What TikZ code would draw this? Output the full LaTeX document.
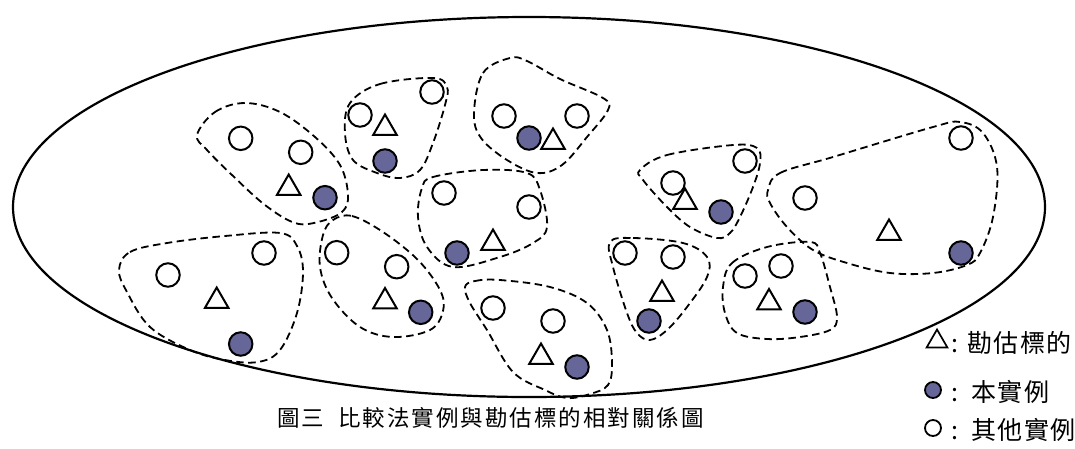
\documentclass[tikz,border=0pt]{standalone}
\usepackage{fontspec}
\newfontfamily\capfont[LetterSpace=9]{Noto Sans CJK TC}
\newfontfamily\legfont[LetterSpace=6]{Noto Sans CJK TC}
\usetikzlibrary{shapes.geometric}
\definecolor{slate}{RGB}{102,102,153}
\tikzset{
  other/.style={circle, draw, line width=2pt, minimum size=23.5pt, inner sep=0pt, fill=white},
  self/.style={other, fill=slate},
  target/.style={regular polygon, regular polygon sides=3, draw, line width=2pt, minimum size=27pt, inner sep=0pt, yshift=-3pt},
  grp/.style={draw, line width=1.8pt, dash pattern=on 7.5pt off 4.5pt},
  legother/.style={circle, draw, line width=1.8pt, minimum size=16pt, inner sep=0pt, fill=white},
  legself/.style={legother, fill=slate},
  legtarget/.style={regular polygon, regular polygon sides=3, draw, line width=1.7pt, minimum size=24pt, inner sep=0pt, yshift=-2.5pt},
  legtext/.style={anchor=west, inner sep=0pt, font=\legfont\fontsize{25pt}{28pt}\selectfont},
}
\begin{document}
\begin{tikzpicture}[x=1pt, y=-1pt]
\useasboundingbox (0,0) rectangle (1075,448);
% universe
\draw[line width=2.2pt] (529,207) ellipse [x radius=516pt, y radius=190pt];

% cluster boundaries
\draw[grp] plot[smooth cycle, tension=0.6] coordinates {(197,135) (215,112) (245,103) (280,112) (315,137) (340,165) (348,195) (342,212) (318,222) (295,223) (265,205) (232,175) (207,150)};
\draw[grp] plot[smooth cycle, tension=0.6] coordinates {(119,270) (130,252) (167,243) (225,236) (280,233) (297,246) (303,272) (297,313) (280,350) (258,362) (225,360) (190,350) (150,327) (127,292)};
\draw[grp] plot[smooth cycle, tension=0.6] coordinates {(333,220) (352,216) (383,232) (418,260) (440,290) (443,311) (430,330) (393,337) (360,327) (332,298) (320,267) (323,235)};
\draw[grp] plot[smooth cycle, tension=0.6] coordinates {(350,103) (380,84) (433,78) (447,87) (445,105) (433,143) (420,170) (400,178) (377,173) (353,160) (345,133)};
\draw[grp] plot[smooth cycle, tension=0.6] coordinates {(474,113) (483,73) (510,58) (527,61) (560,79) (603,98) (608,110) (587,137) (562,165) (537,173) (507,160) (481,138)};
\draw[grp] plot[smooth cycle, tension=0.6] coordinates {(422,188) (433,177) (483,170) (527,173) (540,190) (547,227) (533,243) (500,257) (453,267) (427,247) (418,217)};
\draw[grp] plot[smooth cycle, tension=0.6] coordinates {(465,287) (475,281) (500,280) (550,287) (587,303) (607,330) (612,363) (608,385) (590,394) (567,398) (545,390) (513,372) (487,330) (470,303)};
\draw[grp] plot[smooth cycle, tension=0.6] coordinates {(610,242) (633,238) (683,243) (707,257) (707,277) (687,307) (667,330) (650,340) (637,333) (627,313) (613,267)};
\draw[grp] plot[smooth cycle, tension=0.6] coordinates {(640,170) (667,155) (733,145) (757,148) (760,163) (753,187) (740,217) (730,233) (717,238) (690,227) (667,207) (643,180)};
\draw[grp] plot[smooth cycle, tension=0.6] coordinates {(723,287) (732,263) (767,247) (810,242) (820,253) (830,287) (837,317) (830,330) (800,337) (767,339) (737,333) (725,313)};
\draw[grp] plot[smooth cycle, tension=0.6] coordinates {(768,190) (780,173) (833,157) (933,127) (960,122) (983,133) (997,167) (993,217) (980,253) (967,265) (933,273) (890,273) (847,263) (813,250) (787,227) (770,203)};

% cluster A
\node[other] (a1) at (240.7,138.3) {};
\node[other] (a2) at (300.7,152.3) {};
\node[target] (at) at (288.7,185) {};
\node[self] (as) at (325,197.7) {};
% cluster B
\node[other] (b1) at (168,275) {};
\node[other] (b2) at (264,253) {};
\node[target] (bt) at (216.7,298) {};
\node[self] (bs) at (240.7,344) {};
% cluster C
\node[other] (c1) at (336.7,252.7) {};
\node[other] (c2) at (396.7,266.7) {};
\node[target] (ct) at (385,298.5) {};
\node[self] (cs) at (420.7,312.3) {};
% cluster D
\node[other] (d1) at (360,115) {};
\node[other] (d2) at (432,92) {};
\node[target] (dt) at (385,125) {};
\node[self] (ds) at (385,161) {};
% cluster E
\node[other] (e1) at (504,116) {};
\node[other] (e2) at (577,116) {};
\node[self] (es) at (529,138) {};
\node[target] (et) at (553,139) {};
% cluster F
\node[other] (f1) at (444,193) {};
\node[other] (f2) at (529,207) {};
\node[target] (ft) at (493,240) {};
\node[self] (fs) at (457,253) {};
% cluster G
\node[other] (g1) at (493,308) {};
\node[other] (g2) at (553,321) {};
\node[target] (gt) at (541,354) {};
\node[self] (gs) at (577,367) {};
% cluster H
\node[other] (h1) at (625,253) {};
\node[other] (h2) at (673,257) {};
\node[target] (ht) at (662,291) {};
\node[self] (hs) at (649,321) {};
% cluster I
\node[other] (i1) at (745,161) {};
\node[other] (i2) at (673,183) {};
\node[target] (it) at (685,199) {};
\node[self] (is) at (721,212) {};
% cluster J
\node[other] (j1) at (745,276) {};
\node[other] (j2) at (781,266) {};
\node[target] (jt) at (769,299.5) {};
\node[self] (js) at (805,312) {};
% cluster K
\node[other] (k1) at (961,138) {};
\node[other] (k2) at (805,198) {};
\node[target] (kt) at (889,230) {};
\node[self] (ks) at (961,253) {};

% legend
\node[legtarget] (lt) at (937,339) {};
\node[legtext] (ltx) at (951,343) {\makebox[16pt][l]{:}勘估標的};
\node[legself] (ls) at (933,390) {};
\node[legtext] (lsx) at (951,392) {\makebox[20pt][l]{:}本實例};
\node[legother] (lo) at (933,428) {};
\node[legtext] (lox) at (951,430) {\makebox[20pt][l]{:}其他實例};

% caption
\node[inner sep=0pt, font=\capfont\fontsize{22.5pt}{26pt}\selectfont] (cap) at (490.5,417.5) {圖三\hspace{14pt}比較法實例與勘估標的相對關係圖};
\end{tikzpicture}
\end{document}
